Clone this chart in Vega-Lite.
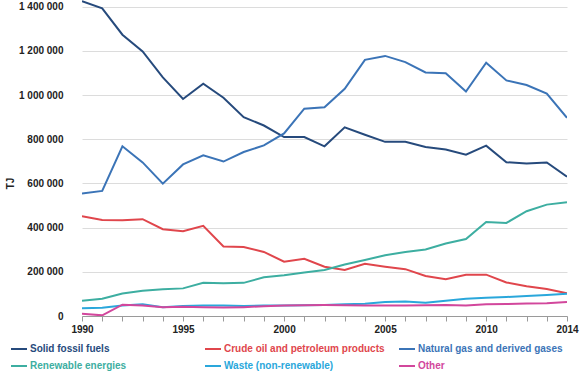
{
  "$schema": "https://vega.github.io/schema/vega-lite/v6.json",
  "width": 485,
  "height": 316,
  "autosize": {"type": "none"},
  "padding": {"left": 82, "top": 0, "right": 20, "bottom": 59},
  "background": "white",
  "config": {
    "view": {"stroke": null},
    "font": "Liberation Sans",
    "locale": {"number": {"decimal": ".", "thousands": " ", "grouping": [3], "currency": ["", ""]}}
  },
  "datasets": {
    "energy": [
      {"year": 1990, "fuel": "Solid fossil fuels", "tj": 1425000},
      {"year": 1991, "fuel": "Solid fossil fuels", "tj": 1392000},
      {"year": 1992, "fuel": "Solid fossil fuels", "tj": 1273000},
      {"year": 1993, "fuel": "Solid fossil fuels", "tj": 1197000},
      {"year": 1994, "fuel": "Solid fossil fuels", "tj": 1080000},
      {"year": 1995, "fuel": "Solid fossil fuels", "tj": 982000},
      {"year": 1996, "fuel": "Solid fossil fuels", "tj": 1051000},
      {"year": 1997, "fuel": "Solid fossil fuels", "tj": 988000},
      {"year": 1998, "fuel": "Solid fossil fuels", "tj": 900000},
      {"year": 1999, "fuel": "Solid fossil fuels", "tj": 862000},
      {"year": 2000, "fuel": "Solid fossil fuels", "tj": 810000},
      {"year": 2001, "fuel": "Solid fossil fuels", "tj": 810000},
      {"year": 2002, "fuel": "Solid fossil fuels", "tj": 768000},
      {"year": 2003, "fuel": "Solid fossil fuels", "tj": 854000},
      {"year": 2004, "fuel": "Solid fossil fuels", "tj": 820000},
      {"year": 2005, "fuel": "Solid fossil fuels", "tj": 788000},
      {"year": 2006, "fuel": "Solid fossil fuels", "tj": 788000},
      {"year": 2007, "fuel": "Solid fossil fuels", "tj": 765000},
      {"year": 2008, "fuel": "Solid fossil fuels", "tj": 753000},
      {"year": 2009, "fuel": "Solid fossil fuels", "tj": 730000},
      {"year": 2010, "fuel": "Solid fossil fuels", "tj": 771000},
      {"year": 2011, "fuel": "Solid fossil fuels", "tj": 696000},
      {"year": 2012, "fuel": "Solid fossil fuels", "tj": 690000},
      {"year": 2013, "fuel": "Solid fossil fuels", "tj": 695000},
      {"year": 2014, "fuel": "Solid fossil fuels", "tj": 630000},
      {"year": 1990, "fuel": "Crude oil and petroleum products", "tj": 452000},
      {"year": 1991, "fuel": "Crude oil and petroleum products", "tj": 434000},
      {"year": 1992, "fuel": "Crude oil and petroleum products", "tj": 433000},
      {"year": 1993, "fuel": "Crude oil and petroleum products", "tj": 438000},
      {"year": 1994, "fuel": "Crude oil and petroleum products", "tj": 393000},
      {"year": 1995, "fuel": "Crude oil and petroleum products", "tj": 384000},
      {"year": 1996, "fuel": "Crude oil and petroleum products", "tj": 408000},
      {"year": 1997, "fuel": "Crude oil and petroleum products", "tj": 315000},
      {"year": 1998, "fuel": "Crude oil and petroleum products", "tj": 312000},
      {"year": 1999, "fuel": "Crude oil and petroleum products", "tj": 290000},
      {"year": 2000, "fuel": "Crude oil and petroleum products", "tj": 246000},
      {"year": 2001, "fuel": "Crude oil and petroleum products", "tj": 259000},
      {"year": 2002, "fuel": "Crude oil and petroleum products", "tj": 223000},
      {"year": 2003, "fuel": "Crude oil and petroleum products", "tj": 208000},
      {"year": 2004, "fuel": "Crude oil and petroleum products", "tj": 236000},
      {"year": 2005, "fuel": "Crude oil and petroleum products", "tj": 223000},
      {"year": 2006, "fuel": "Crude oil and petroleum products", "tj": 212000},
      {"year": 2007, "fuel": "Crude oil and petroleum products", "tj": 181000},
      {"year": 2008, "fuel": "Crude oil and petroleum products", "tj": 166000},
      {"year": 2009, "fuel": "Crude oil and petroleum products", "tj": 187000},
      {"year": 2010, "fuel": "Crude oil and petroleum products", "tj": 187000},
      {"year": 2011, "fuel": "Crude oil and petroleum products", "tj": 152000},
      {"year": 2012, "fuel": "Crude oil and petroleum products", "tj": 135000},
      {"year": 2013, "fuel": "Crude oil and petroleum products", "tj": 122000},
      {"year": 2014, "fuel": "Crude oil and petroleum products", "tj": 103000},
      {"year": 1990, "fuel": "Natural gas and derived gases", "tj": 554000},
      {"year": 1991, "fuel": "Natural gas and derived gases", "tj": 566000},
      {"year": 1992, "fuel": "Natural gas and derived gases", "tj": 768000},
      {"year": 1993, "fuel": "Natural gas and derived gases", "tj": 695000},
      {"year": 1994, "fuel": "Natural gas and derived gases", "tj": 599000},
      {"year": 1995, "fuel": "Natural gas and derived gases", "tj": 686000},
      {"year": 1996, "fuel": "Natural gas and derived gases", "tj": 727000},
      {"year": 1997, "fuel": "Natural gas and derived gases", "tj": 699000},
      {"year": 1998, "fuel": "Natural gas and derived gases", "tj": 742000},
      {"year": 1999, "fuel": "Natural gas and derived gases", "tj": 772000},
      {"year": 2000, "fuel": "Natural gas and derived gases", "tj": 826000},
      {"year": 2001, "fuel": "Natural gas and derived gases", "tj": 938000},
      {"year": 2002, "fuel": "Natural gas and derived gases", "tj": 945000},
      {"year": 2003, "fuel": "Natural gas and derived gases", "tj": 1028000},
      {"year": 2004, "fuel": "Natural gas and derived gases", "tj": 1159000},
      {"year": 2005, "fuel": "Natural gas and derived gases", "tj": 1177000},
      {"year": 2006, "fuel": "Natural gas and derived gases", "tj": 1149000},
      {"year": 2007, "fuel": "Natural gas and derived gases", "tj": 1102000},
      {"year": 2008, "fuel": "Natural gas and derived gases", "tj": 1099000},
      {"year": 2009, "fuel": "Natural gas and derived gases", "tj": 1016000},
      {"year": 2010, "fuel": "Natural gas and derived gases", "tj": 1146000},
      {"year": 2011, "fuel": "Natural gas and derived gases", "tj": 1066000},
      {"year": 2012, "fuel": "Natural gas and derived gases", "tj": 1045000},
      {"year": 2013, "fuel": "Natural gas and derived gases", "tj": 1006000},
      {"year": 2014, "fuel": "Natural gas and derived gases", "tj": 897000},
      {"year": 1990, "fuel": "Renewable energies", "tj": 69000},
      {"year": 1991, "fuel": "Renewable energies", "tj": 78000},
      {"year": 1992, "fuel": "Renewable energies", "tj": 102000},
      {"year": 1993, "fuel": "Renewable energies", "tj": 114000},
      {"year": 1994, "fuel": "Renewable energies", "tj": 121000},
      {"year": 1995, "fuel": "Renewable energies", "tj": 125000},
      {"year": 1996, "fuel": "Renewable energies", "tj": 150000},
      {"year": 1997, "fuel": "Renewable energies", "tj": 148000},
      {"year": 1998, "fuel": "Renewable energies", "tj": 150000},
      {"year": 1999, "fuel": "Renewable energies", "tj": 175000},
      {"year": 2000, "fuel": "Renewable energies", "tj": 184000},
      {"year": 2001, "fuel": "Renewable energies", "tj": 197000},
      {"year": 2002, "fuel": "Renewable energies", "tj": 208000},
      {"year": 2003, "fuel": "Renewable energies", "tj": 233000},
      {"year": 2004, "fuel": "Renewable energies", "tj": 253000},
      {"year": 2005, "fuel": "Renewable energies", "tj": 275000},
      {"year": 2006, "fuel": "Renewable energies", "tj": 290000},
      {"year": 2007, "fuel": "Renewable energies", "tj": 301000},
      {"year": 2008, "fuel": "Renewable energies", "tj": 328000},
      {"year": 2009, "fuel": "Renewable energies", "tj": 348000},
      {"year": 2010, "fuel": "Renewable energies", "tj": 425000},
      {"year": 2011, "fuel": "Renewable energies", "tj": 421000},
      {"year": 2012, "fuel": "Renewable energies", "tj": 474000},
      {"year": 2013, "fuel": "Renewable energies", "tj": 504000},
      {"year": 2014, "fuel": "Renewable energies", "tj": 515000},
      {"year": 1990, "fuel": "Waste (non-renewable)", "tj": 35000},
      {"year": 1991, "fuel": "Waste (non-renewable)", "tj": 37000},
      {"year": 1992, "fuel": "Waste (non-renewable)", "tj": 47000},
      {"year": 1993, "fuel": "Waste (non-renewable)", "tj": 53000},
      {"year": 1994, "fuel": "Waste (non-renewable)", "tj": 40000},
      {"year": 1995, "fuel": "Waste (non-renewable)", "tj": 45000},
      {"year": 1996, "fuel": "Waste (non-renewable)", "tj": 47000},
      {"year": 1997, "fuel": "Waste (non-renewable)", "tj": 47000},
      {"year": 1998, "fuel": "Waste (non-renewable)", "tj": 45000},
      {"year": 1999, "fuel": "Waste (non-renewable)", "tj": 48000},
      {"year": 2000, "fuel": "Waste (non-renewable)", "tj": 47000},
      {"year": 2001, "fuel": "Waste (non-renewable)", "tj": 49000},
      {"year": 2002, "fuel": "Waste (non-renewable)", "tj": 50000},
      {"year": 2003, "fuel": "Waste (non-renewable)", "tj": 53000},
      {"year": 2004, "fuel": "Waste (non-renewable)", "tj": 55000},
      {"year": 2005, "fuel": "Waste (non-renewable)", "tj": 63000},
      {"year": 2006, "fuel": "Waste (non-renewable)", "tj": 66000},
      {"year": 2007, "fuel": "Waste (non-renewable)", "tj": 60000},
      {"year": 2008, "fuel": "Waste (non-renewable)", "tj": 69000},
      {"year": 2009, "fuel": "Waste (non-renewable)", "tj": 78000},
      {"year": 2010, "fuel": "Waste (non-renewable)", "tj": 83000},
      {"year": 2011, "fuel": "Waste (non-renewable)", "tj": 86000},
      {"year": 2012, "fuel": "Waste (non-renewable)", "tj": 90000},
      {"year": 2013, "fuel": "Waste (non-renewable)", "tj": 95000},
      {"year": 2014, "fuel": "Waste (non-renewable)", "tj": 101000},
      {"year": 1990, "fuel": "Other", "tj": 10000},
      {"year": 1991, "fuel": "Other", "tj": 3000},
      {"year": 1992, "fuel": "Other", "tj": 51000},
      {"year": 1993, "fuel": "Other", "tj": 47000},
      {"year": 1994, "fuel": "Other", "tj": 40000},
      {"year": 1995, "fuel": "Other", "tj": 42000},
      {"year": 1996, "fuel": "Other", "tj": 40000},
      {"year": 1997, "fuel": "Other", "tj": 38000},
      {"year": 1998, "fuel": "Other", "tj": 40000},
      {"year": 1999, "fuel": "Other", "tj": 44000},
      {"year": 2000, "fuel": "Other", "tj": 47000},
      {"year": 2001, "fuel": "Other", "tj": 49000},
      {"year": 2002, "fuel": "Other", "tj": 50000},
      {"year": 2003, "fuel": "Other", "tj": 49000},
      {"year": 2004, "fuel": "Other", "tj": 48000},
      {"year": 2005, "fuel": "Other", "tj": 47000},
      {"year": 2006, "fuel": "Other", "tj": 47000},
      {"year": 2007, "fuel": "Other", "tj": 49000},
      {"year": 2008, "fuel": "Other", "tj": 50000},
      {"year": 2009, "fuel": "Other", "tj": 47000},
      {"year": 2010, "fuel": "Other", "tj": 53000},
      {"year": 2011, "fuel": "Other", "tj": 54000},
      {"year": 2012, "fuel": "Other", "tj": 57000},
      {"year": 2013, "fuel": "Other", "tj": 58000},
      {"year": 2014, "fuel": "Other", "tj": 63000}
    ]
  },
  "data": {"name": "energy"},
  "mark": {"type": "line", "strokeWidth": 2, "clip": true},
  "encoding": {
    "x": {
      "field": "year",
      "type": "quantitative",
      "scale": {"domain": [1990, 2014], "nice": false, "zero": false},
      "axis": {
        "title": null,
        "values": [1990,1991,1992,1993,1994,1995,1996,1997,1998,1999,2000,2001,2002,2003,2004,2005,2006,2007,2008,2009,2010,2011,2012,2013,2014],
        "labelExpr": "indexof([1990,1995,2000,2005,2010,2014], datum.value) >= 0 ? datum.value : ''",
        "grid": false,
        "domainColor": "#9a9a9a",
        "tickColor": "#9a9a9a",
        "tickSize": 5,
        "labelFontSize": 10,
        "labelFontWeight": "bold",
        "labelColor": "#222222",
        "labelPadding": 3,
        "labelFlush": false,
        "labelOverlap": false
      }
    },
    "y": {
      "field": "tj",
      "type": "quantitative",
      "scale": {"domain": [0, 1430000], "nice": false},
      "axis": {
        "title": "TJ",
        "titleFontSize": 10,
        "titleFontWeight": "bold",
        "titleColor": "#222222",
        "titleX": -67,
        "titleY": 183,
        "values": [0, 200000, 400000, 600000, 800000, 1000000, 1200000, 1400000],
        "format": ",d",
        "domain": false,
        "ticks": false,
        "gridColor": "#dcdcdc",
        "gridWidth": 1,
        "labelFontSize": 10,
        "labelFontWeight": "bold",
        "labelColor": "#222222",
        "labelPadding": 19
      }
    },
    "color": {
      "field": "fuel",
      "type": "nominal",
      "scale": {
        "domain": ["Solid fossil fuels", "Crude oil and petroleum products", "Natural gas and derived gases", "Renewable energies", "Waste (non-renewable)", "Other"],
        "range": ["#264a7c", "#e0464c", "#3b74b7", "#3daea1", "#2aa7db", "#d2479c"]
      },
      "legend": {
        "title": null,
        "orient": "none",
        "legendX": -72,
        "legendY": 340,
        "columns": 3,
        "direction": "horizontal",
        "gridAlign": "all",
        "columnPadding": 10,
        "rowPadding": 3,
        "symbolType": "stroke",
        "symbolSize": 256,
        "symbolStrokeWidth": 2,
        "symbolOffset": 0,
        "labelOffset": 2,
        "labelFontSize": 10,
        "labelFontWeight": "bold",
        "labelLimit": 300,
        "encode": {
          "labels": {"update": {"fill": {"signal": "scale('color', datum.value)"}}}
        }
      }
    }
  }
}
